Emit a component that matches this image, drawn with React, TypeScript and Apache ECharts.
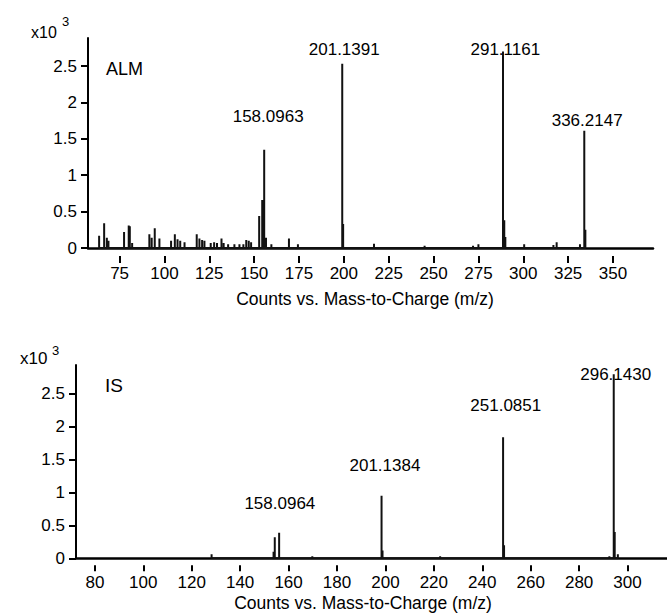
import React, { useEffect, useRef } from "react";
import * as echarts from "echarts";

// ---- Data (intensities in x10^3 counts) ----
const almMajorPeaks: [number, number][] = [
  [155.6, 1.35], [199.1, 2.53], [288.7, 2.7], [334.0, 1.61],
];
const almMinorPeaks: [number, number][] = [
  [63.6, 0.17], [66.4, 0.34], [67.9, 0.14], [68.8, 0.1], [77.5, 0.22], [80.1, 0.31], [80.7, 0.3], [82.0, 0.07],
  [91.6, 0.19], [92.9, 0.14], [94.6, 0.27], [97.2, 0.13], [103.7, 0.1], [105.8, 0.19], [107.3, 0.12],
  [108.8, 0.1], [111.2, 0.08], [118.0, 0.19], [119.5, 0.13], [121.0, 0.11], [122.3, 0.1], [125.8, 0.07],
  [127.7, 0.08], [129.3, 0.07], [131.8, 0.13], [133.0, 0.07], [135.5, 0.05], [139.0, 0.05], [141.8, 0.05],
  [144.0, 0.05], [145.6, 0.11], [147.0, 0.1], [148.3, 0.08], [152.8, 0.44], [154.5, 0.66], [156.6, 0.14],
  [159.6, 0.05], [169.4, 0.13], [174.4, 0.05], [199.6, 0.33], [216.8, 0.06], [245.0, 0.03], [272.0, 0.03],
  [275.0, 0.05], [289.4, 0.38], [290.0, 0.15], [300.5, 0.05], [316.8, 0.04], [318.6, 0.08], [331.6, 0.05],
  [334.6, 0.25],
];
const almLabels: { text: string; mz: number; y: number }[] = [
  { text: "158.0963", mz: 157.8, y: 1.8 },
  { text: "201.1391", mz: 200.2, y: 2.724 },
  { text: "291.1161", mz: 290.0, y: 2.724 },
  { text: "336.2147", mz: 335.6, y: 1.758 },
];

const isMajorPeaks: [number, number][] = [
  [154.3, 0.32], [156.1, 0.39], [198.4, 0.95], [248.6, 1.84], [294.3, 2.8],
];
const isMinorPeaks: [number, number][] = [
  [128.2, 0.06], [153.8, 0.1], [169.8, 0.03], [198.8, 0.12], [222.6, 0.03], [249.0, 0.2],
  [292.5, 0.03], [294.7, 0.4], [296.0, 0.06],
];
const isLabels: { text: string; mz: number; y: number }[] = [
  { text: "158.0964", mz: 156.4, y: 0.837 },
  { text: "201.1384", mz: 199.8, y: 1.405 },
  { text: "251.0851", mz: 249.7, y: 2.326 },
  { text: "296.1430", mz: 295.1, y: 2.79 },
];

const yTicks = [0, 0.5, 1, 1.5, 2, 2.5];
const almXTicks = [75, 100, 125, 150, 175, 200, 225, 250, 275, 300, 325, 350];
const isXTicks = [80, 100, 120, 140, 160, 180, 200, 220, 240, 260, 280, 300];

const FONT = "'Liberation Sans', Arial, sans-serif";

function sticks(peaks: [number, number][]): [number, number][] {
  const sorted = [...peaks].sort((a, b) => a[0] - b[0]);
  const out: [number, number][] = [];
  sorted.forEach(([mz, h]) => {
    out.push([mz, 0], [mz, h], [mz, 0]);
  });
  return out;
}

export default function App() {
  const ref = useRef<HTMLDivElement>(null);
  useEffect(() => {
    if (!ref.current) return;
    const chart = echarts.init(ref.current, null, { renderer: "svg" });
    const black = "#000";

    const mainX = (gi: number, min: number, max: number) => ({
      type: "value",
      gridIndex: gi,
      min,
      max,
      position: "bottom",
      axisLine: { show: true, onZero: false, lineStyle: { color: black, width: 2.5 } },
      axisTick: { show: false },
      axisLabel: { show: false },
      splitLine: { show: false },
    });
    const tickX = (gi: number, min: number, max: number, ticks: number[], off: number, len: number) => ({
      type: "value",
      gridIndex: gi,
      min,
      max,
      position: "bottom",
      offset: off,
      axisLine: { show: false, onZero: false },
      axisTick: { show: true, length: len, customValues: ticks, lineStyle: { color: black, width: 2 } },
      axisLabel: {
        show: true,
        customValues: ticks,
        margin: 9,
        color: black,
        fontSize: 17,
        fontFamily: FONT,
      },
      splitLine: { show: false },
    });
    const yAx = (gi: number, max: number) => ({
      type: "value",
      gridIndex: gi,
      min: 0,
      max,
      axisLine: { show: true, lineStyle: { color: black, width: 2 } },
      axisTick: { show: true, length: 7, customValues: yTicks, lineStyle: { color: black, width: 2 } },
      axisLabel: {
        show: true,
        customValues: yTicks,
        margin: 11,
        color: black,
        fontSize: 17,
        fontFamily: FONT,
      },
      splitLine: { show: false },
    });

    const labelSeries = (xi: number, yi: number, labels: { text: string; mz: number; y: number }[]) => ({
      type: "scatter",
      xAxisIndex: xi,
      yAxisIndex: yi,
      symbolSize: 0,
      silent: true,
      z: 5,
      itemStyle: { opacity: 1 },
      data: labels.map((l) => ({ name: l.text, value: [l.mz, l.y] })),
      label: {
        show: true,
        position: "inside",
        formatter: "{b}",
        color: black,
        opacity: 1,
        textBorderWidth: 0,
        fontSize: 17,
        fontFamily: FONT,
      },
    });

    const option = {
      animation: false,
      backgroundColor: "#fff",
      grid: [
        { left: 88, top: 38, width: 565, height: 210 },
        { left: 76, top: 365, right: 0, height: 193.3 },
      ],
      xAxis: [
        mainX(0, 57.4, 372.3),
        tickX(0, 57.4, 372.3, almXTicks, 8, 7),
        mainX(1, 72.2, 316.3),
        tickX(1, 72.2, 316.3, isXTicks, 7, 6),
      ],
      yAxis: [yAx(0, 2.885), yAx(1, 2.94)],
      series: [
        {
          type: "line",
          xAxisIndex: 0,
          yAxisIndex: 0,
          showSymbol: false,
          silent: true,
          lineStyle: { color: "#111", width: 2 },
          data: sticks([...almMajorPeaks, ...almMinorPeaks]),
        },
        labelSeries(0, 0, almLabels),
        {
          type: "line",
          xAxisIndex: 2,
          yAxisIndex: 1,
          showSymbol: false,
          silent: true,
          lineStyle: { color: "#111", width: 2 },
          data: sticks([...isMajorPeaks, ...isMinorPeaks]),
        },
        labelSeries(2, 1, isLabels),
      ],
      graphic: [
        { type: "text", left: 31, top: 24, style: { text: "x10", fontSize: 16, fontFamily: FONT, fill: black } },
        { type: "text", left: 62, top: 15, style: { text: "3", fontSize: 13, fontFamily: FONT, fill: black } },
        { type: "text", left: 106, top: 60, style: { text: "ALM", fontSize: 18, fontFamily: FONT, fill: black } },
        {
          type: "text",
          x: 365,
          y: 299,
          style: {
            text: "Counts vs. Mass-to-Charge (m/z)",
            fontSize: 17.5,
            fontFamily: FONT,
            fill: black,
            align: "center",
            verticalAlign: "middle",
          },
        },
        { type: "text", left: 20, top: 350, style: { text: "x10", fontSize: 17, fontFamily: FONT, fill: black } },
        { type: "text", left: 52, top: 344, style: { text: "3", fontSize: 13, fontFamily: FONT, fill: black } },
        { type: "text", left: 105, top: 376, style: { text: "IS", fontSize: 19, fontFamily: FONT, fill: black } },
        {
          type: "text",
          x: 363,
          y: 603,
          style: {
            text: "Counts vs. Mass-to-Charge (m/z)",
            fontSize: 17.5,
            fontFamily: FONT,
            fill: black,
            align: "center",
            verticalAlign: "middle",
          },
        },
      ],
    };
    chart.setOption(option as any);
    return () => chart.dispose();
  }, []);
  return (
    <div
      ref={ref}
      style={{ position: "fixed", left: 0, top: 0, width: 667, height: 613, background: "#fff" }}
    />
  );
}
